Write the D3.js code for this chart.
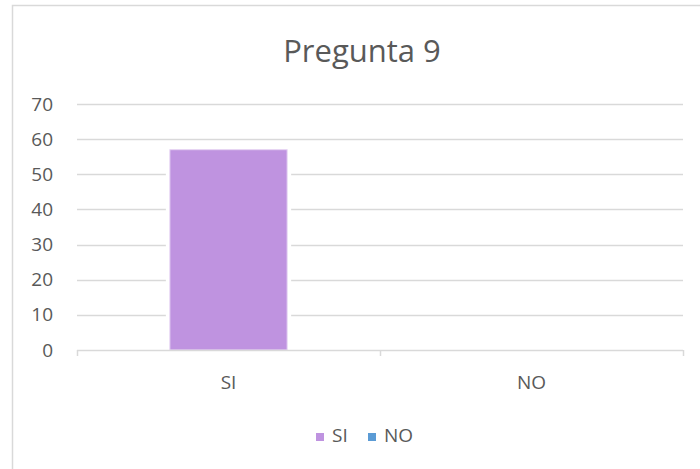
<!DOCTYPE html>
<html>
<head>
<meta charset="utf-8">
<script src="https://cdn.jsdelivr.net/npm/d3@7"></script>
<style>
  html, body { margin: 0; padding: 0; background: #fff; }
  svg { display: block; font-family: "Open Sans", "Noto Sans", sans-serif; }
</style>
</head>
<body>
<div id="chart"></div>
<script>
(function(d3) {
    'use strict';

    // data
    var title = 'Pregunta 9';
    var categories = ['SI', 'NO'];
    var values = [57, 0];
    var colors = ['#bf93e0', '#5b9bd5'];
    var yTicks = [0, 10, 20, 30, 40, 50, 60, 70];

    var width = 700, height = 469;
    var margin = { top: 104, right: 17, bottom: 119, left: 77 };
    var textColor = '#595959';
    var gridColor = '#d9d9d9';

    var svg = d3.select('#chart').append('svg')
        .attr('width', width)
        .attr('height', height);

    // chart frame (right and bottom edges fall outside the picture)
    svg.append('rect')
        .attr('x', 12.5)
        .attr('y', 5.5)
        .attr('width', 720)
        .attr('height', 500)
        .attr('fill', '#fff')
        .attr('stroke', gridColor)
        .attr('stroke-width', 1.5);

    svg.append('text')
        .attr('x', 362)
        .attr('y', 62)
        .attr('text-anchor', 'middle')
        .attr('fill', textColor)
        .style('font-size', '31px')
        .text(title);

    var innerW = width - margin.left - margin.right;
    var innerH = height - margin.top - margin.bottom;

    var g = svg.append('g')
        .attr('transform', 'translate(' + margin.left + ',' + margin.top + ')');

    var x = d3.scaleBand()
        .domain(categories)
        .range([0, innerW])
        .padding(0);

    var y = d3.scaleLinear()
        .domain([0, 70])
        .range([innerH, 0]);

    // gridlines
    g.append('g')
        .selectAll('line')
        .data(yTicks.filter(function(d) { return d > 0; }))
        .enter()
        .append('line')
        .attr('x1', 0)
        .attr('x2', innerW)
        .attr('y1', function(d) { return Math.round(y(d)) + 0.5; })
        .attr('y2', function(d) { return Math.round(y(d)) + 0.5; })
        .attr('stroke', gridColor)
        .attr('stroke-width', 1.5);

    // y axis labels
    var yAxis = g.append('g')
        .call(d3.axisLeft(y).tickValues(yTicks).tickSize(0).tickPadding(24));
    yAxis.select('.domain').remove();
    yAxis.selectAll('text')
        .attr('fill', textColor)
        .style('font-size', '19px')
        .style('font-family', '"Open Sans", "Noto Sans", sans-serif');

    // bars, with a white halo that breaks the gridlines like the original
    var barW = x.bandwidth() * 0.387;
    function barX(d, i) { return x(categories[i]) + (x.bandwidth() - barW) / 2; }

    g.selectAll('.halo')
        .data(values)
        .enter()
        .append('rect')
        .attr('class', 'halo')
        .attr('x', function(d, i) { return barX(d, i) - 4; })
        .attr('y', function(d) { return y(d) - 1; })
        .attr('width', barW + 8)
        .attr('height', function(d) { return d > 0 ? y(0) - y(d) : 0; })
        .attr('fill', '#fff');

    g.selectAll('.bar')
        .data(values)
        .enter()
        .append('rect')
        .attr('class', 'bar')
        .attr('x', barX)
        .attr('y', function(d) { return y(d); })
        .attr('width', barW)
        .attr('height', function(d) { return y(0) - y(d); })
        .attr('fill', function(d, i) { return colors[i]; })
        .attr('stroke', '#e6d4f3')
        .attr('stroke-width', 1);

    // x axis line and ticks at band boundaries
    var xAxisG = g.append('g')
        .attr('transform', 'translate(0,' + innerH + ')');
    xAxisG.append('line')
        .attr('x1', 0)
        .attr('x2', innerW)
        .attr('y1', 0.5)
        .attr('y2', 0.5)
        .attr('stroke', gridColor)
        .attr('stroke-width', 1.5);
    var bounds = categories.map(function(c) { return x(c); }).concat([innerW]);
    xAxisG.selectAll('.tick-mark')
        .data(bounds)
        .enter()
        .append('line')
        .attr('class', 'tick-mark')
        .attr('x1', function(d) { return Math.round(d) + 0.5; })
        .attr('x2', function(d) { return Math.round(d) + 0.5; })
        .attr('y1', 0)
        .attr('y2', 6)
        .attr('stroke', gridColor)
        .attr('stroke-width', 1.5);
    xAxisG.selectAll('.cat')
        .data(categories)
        .enter()
        .append('text')
        .attr('class', 'cat')
        .attr('x', function(d) { return x(d) + x.bandwidth() / 2; })
        .attr('y', 39)
        .attr('text-anchor', 'middle')
        .attr('fill', textColor)
        .style('font-size', '19px')
        .text(function(d) { return d; });

    // legend
    var legendX = [316, 368];
    var legend = svg.selectAll('.legend')
        .data(categories)
        .enter()
        .append('g')
        .attr('class', 'legend')
        .attr('transform', function(d, i) { return 'translate(' + legendX[i] + ',433)'; });
    legend.append('rect')
        .attr('width', 8)
        .attr('height', 8)
        .attr('fill', function(d, i) { return colors[i]; });
    legend.append('text')
        .attr('x', 16)
        .attr('y', 9)
        .attr('fill', textColor)
        .style('font-size', '19px')
        .text(function(d) { return d; });

})(window.d3);
</script>
</body>
</html>
